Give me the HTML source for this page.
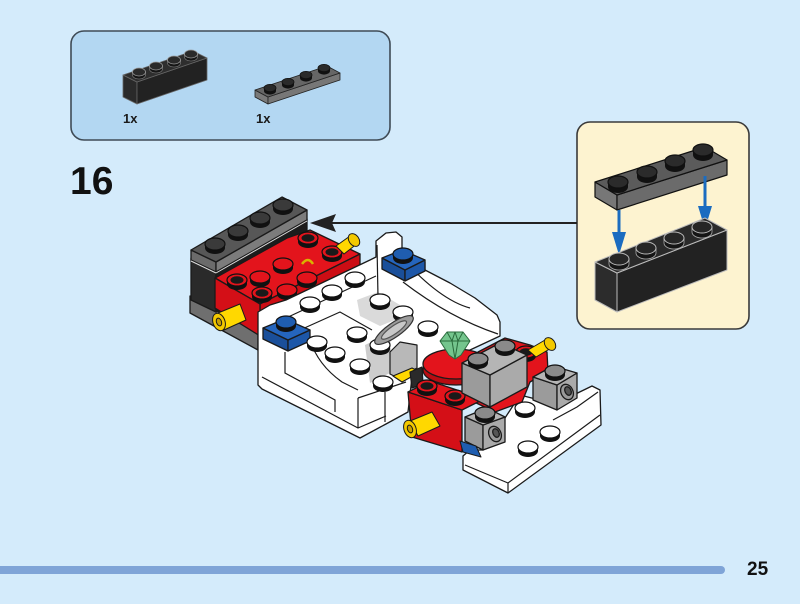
<!DOCTYPE html>
<html><head><meta charset="utf-8">
<style>
html,body{margin:0;padding:0;background:#d4ebfb;}
body{width:800px;height:604px;overflow:hidden;position:relative;}
svg{position:absolute;left:0;top:0;}
</style></head><body>
<svg width="800" height="604" viewBox="0 0 800 604" xmlns="http://www.w3.org/2000/svg">
<defs>
 <g id="ws"><path d="M-10,0V4A10,6 0 0 0 10,4V0Z" fill="#111"/><ellipse rx="10" ry="6" fill="#fff" stroke="#111" stroke-width="1.2"/></g>
 <g id="rs"><path d="M-10,0V4A10,6 0 0 0 10,4V0Z" fill="#111"/><ellipse rx="10" ry="6" fill="#e3141c" stroke="#111" stroke-width="1.2"/></g>
 <g id="rh"><path d="M-10,0V4A10,6 0 0 0 10,4V0Z" fill="#111"/><ellipse rx="10" ry="6" fill="#e3141c" stroke="#111" stroke-width="1.2"/><ellipse rx="6.5" ry="3.8" fill="#1a1a1a"/></g>
 <g id="ks"><path d="M-10,0V4A10,6 0 0 0 10,4V0Z" fill="#111"/><ellipse rx="10" ry="6" fill="#3a3a3a" stroke="#111" stroke-width="1.2"/></g>
 <g id="gs"><path d="M-10,0V4A10,6 0 0 0 10,4V0Z" fill="#111"/><ellipse rx="10" ry="6" fill="#8a8a8a" stroke="#111" stroke-width="1.2"/></g>
 <g id="bs"><path d="M-10,0V4A10,6 0 0 0 10,4V0Z" fill="#111"/><ellipse rx="10" ry="6" fill="#1f5db0" stroke="#111" stroke-width="1.2"/></g>
 <g id="cs"><path d="M-10,0V5A10,6 0 0 0 10,5V0Z" fill="#151515" stroke="#aaa" stroke-width="0.8"/><ellipse rx="10" ry="6" fill="#262626" stroke="#bbb" stroke-width="1"/></g>
 <g id="cp"><path d="M-10,0V5A10,6 0 0 0 10,5V0Z" fill="#111"/><ellipse rx="10" ry="6" fill="#2b2b2b" stroke="#111" stroke-width="1.2"/></g>
 <g id="ss"><path d="M-6.5,0V3A6.5,4 0 0 0 6.5,3V0Z" fill="#151515" stroke="#888" stroke-width="0.6"/><ellipse rx="6.5" ry="4" fill="#2a2a2a" stroke="#999" stroke-width="0.8"/></g>
 <g id="sp"><path d="M-6,0V3A6,3.6 0 0 0 6,3V0Z" fill="#111"/><ellipse rx="6" ry="3.6" fill="#2a2a2a" stroke="#111" stroke-width="0.8"/></g>
</defs>

<!-- Parts box -->
<rect x="71" y="31" width="319" height="109" rx="13" fill="#b3d7f2" stroke="#3f4b56" stroke-width="1.6"/>
<g stroke="#666" stroke-width="0.8" stroke-linejoin="round">
 <polygon points="123,75 137,82 137,104 123,97" fill="#2a2a2a"/>
 <polygon points="137,82 207,58 207,80 137,104" fill="#222"/>
 <polygon points="123,75 193,51 207,58 137,82" fill="#2e2e2e"/>
</g>
<use href="#ss" x="139" y="72"/><use href="#ss" x="156" y="66"/><use href="#ss" x="174" y="60"/><use href="#ss" x="191" y="54"/>
<g stroke="#222" stroke-width="0.8" stroke-linejoin="round">
 <polygon points="255,90 268,97 268,104 255,97" fill="#7a7a7a"/>
 <polygon points="268,97 340,73 340,80 268,104" fill="#777"/>
 <polygon points="255,90 327,66 340,73 268,97" fill="#666"/>
</g>
<use href="#sp" x="270" y="88"/><use href="#sp" x="288" y="82"/><use href="#sp" x="306" y="75"/><use href="#sp" x="324" y="68"/>
<text x="123" y="123" font-family="Liberation Sans, sans-serif" font-weight="bold" font-size="13" fill="#1a1a1a">1x</text>
<text x="256" y="123" font-family="Liberation Sans, sans-serif" font-weight="bold" font-size="13" fill="#1a1a1a">1x</text>

<!-- Step number -->
<text x="70" y="194" font-family="Liberation Sans, sans-serif" font-weight="bold" font-size="39" fill="#111">16</text>

<!-- Callout -->
<rect x="577" y="122" width="172" height="207" rx="13" fill="#fdf3d0" stroke="#3a3a3a" stroke-width="1.6"/>
<g stroke="#111" stroke-width="1.2" stroke-linejoin="round">
 <polygon points="595,182 617,195 617,210 595,197" fill="#777"/>
 <polygon points="617,195 727,160 727,175 617,210" fill="#6b6b6b"/>
 <polygon points="595,182 705,147 727,160 617,195" fill="#5b5b5b"/>
</g>
<use href="#cp" x="618" y="182"/><use href="#cp" x="647" y="172"/><use href="#cp" x="675" y="161"/><use href="#cp" x="703" y="150"/>
<g stroke="#1b6cc0" stroke-width="3"><line x1="619" y1="210" x2="619" y2="236"/><line x1="705" y1="176" x2="705" y2="210"/></g>
<polygon points="612,232 626,232 619,255" fill="#1b6cc0"/>
<polygon points="698,206 712,206 705,229" fill="#1b6cc0"/>
<g stroke="#bbb" stroke-width="1" stroke-linejoin="round">
 <polygon points="595,262 617,273 617,312 595,300" fill="#2c2c2c"/>
 <polygon points="617,273 727,230 727,270 617,312" fill="#222"/>
 <polygon points="595,262 705,218 727,230 617,273" fill="#2a2a2a"/>
</g>
<use href="#cs" x="619" y="259"/><use href="#cs" x="646" y="248"/><use href="#cs" x="674" y="238"/><use href="#cs" x="702" y="227"/>

<!-- Arrow -->
<line x1="577" y1="223" x2="332" y2="223" stroke="#222" stroke-width="2"/>
<polygon points="310,223 336,214 332,223 336,232" fill="#222"/>

<!-- MAIN MODEL -->
<g stroke="#1a1a1a" stroke-width="1.3" stroke-linejoin="round">
 <!-- back gray bottom plate -->
 <polygon points="190,296 258,333 258,350 190,313" fill="#6f6f6f"/>
 <!-- black brick -->
 <polygon points="191,258 216,271 216,312 191,300" fill="#2a2a2a"/>
 <polygon points="216,271 307,219 307,262 216,312" fill="#1c1c1c"/>
 <!-- top plate -->
 <polygon points="191,250 216,262 216,272 191,260" fill="#6b6b6b"/>
 <polygon points="216,262 307,210 307,220 216,272" fill="#7c7c7c"/>
 <polygon points="191,250 282,197 307,210 216,262" fill="#575757"/>
</g>
<line x1="216" y1="273" x2="307" y2="221" stroke="#ddd" stroke-width="1"/>
<line x1="191" y1="261" x2="216" y2="273" stroke="#ddd" stroke-width="1"/>
<use href="#ks" x="283" y="205"/><use href="#ks" x="260" y="218"/><use href="#ks" x="238" y="231"/><use href="#ks" x="215" y="244"/>

<!-- red back block -->
<g stroke="#1a1a1a" stroke-width="1.3" stroke-linejoin="round">
 <polygon points="215,278 287,238 310,230 360,254 260,304" fill="#e3141c"/>
 <polygon points="260,304 360,254 360,268 260,318" fill="#cc0d14"/>
 <polygon points="215,278 260,304 260,336 215,308" fill="#d40f17"/>
</g>
<use href="#rh" x="308" y="238"/><use href="#rh" x="332" y="252"/><use href="#rs" x="283" y="264"/><use href="#rs" x="260" y="277"/><use href="#rs" x="307" y="278"/><use href="#rh" x="237" y="280"/><use href="#rs" x="287" y="290"/><use href="#rh" x="262" y="293"/>
<path d="M302,264 Q308,256 313,264" fill="none" stroke="#d8b400" stroke-width="2.5"/>
<!-- yellow pins back -->
<g stroke="#1a1a1a" stroke-width="1" stroke-linejoin="round">
 <polygon points="336,246 350,236 358,243 344,254" fill="#ffd800"/>
 <ellipse cx="354" cy="240" rx="5" ry="7" transform="rotate(-35 354 240)" fill="#f3c900"/>
 <polygon points="218,313 240,304 246,320 224,330" fill="#ffd800"/>
 <ellipse cx="219" cy="322" rx="6" ry="9" transform="rotate(-20 219 322)" fill="#f3c900"/>
 <ellipse cx="219" cy="322" rx="2.5" ry="4" transform="rotate(-20 219 322)" fill="#c9a000"/>
</g>

<!-- white chassis -->
<g stroke="#1a1a1a" stroke-width="1.3" stroke-linejoin="round">
 <polygon points="258,312 270,305 286,300 370,260 376,257 376,241 386,233 396,232 402,237 402,258 425,270 450,283 475,298 497,315 500,322 500,336 470,350 412,377 408,412 386,424 360,438 262,389 258,385" fill="#fff"/>
 <polygon points="357,300 378,292 400,305 400,318 380,326 360,316" fill="#dadada" stroke="none"/>
 <polygon points="365,345 390,333 392,372 370,383" fill="#cdcdcd" stroke="none"/>
</g>
<g fill="none" stroke="#1a1a1a" stroke-width="1.2">
 <path d="M377,245 L378,297"/>
 <path d="M286,318 L376,276"/>
 <path d="M403,282 Q450,318 498,334"/>
 <path d="M425,262 L425,270"/>
 <path d="M310,340 Q318,365 342,382 L358,390"/>
 <path d="M285,352 L285,373 L335,400 L335,412"/>
 <path d="M262,377 L358,428 L386,416"/>
 <path d="M358,398 L358,428"/>
 <path d="M358,398 L406,382"/>
 <path d="M385,392 L385,422"/>
 <path d="M300,330 L340,312 L372,330"/>
 <path d="M402,258 Q440,300 470,308"/>
</g>
<!-- blue bricks -->
<g stroke="#1a1a1a" stroke-width="1.3" stroke-linejoin="round">
 <polygon points="263,328 288,340 288,351 263,339" fill="#1a4f9a"/>
 <polygon points="288,340 310,330 310,341 288,351" fill="#1d57a8"/>
 <polygon points="263,328 285,319 310,330 288,340" fill="#2565bd"/>
 <polygon points="382,258 405,270 405,281 382,269" fill="#1a4f9a"/>
 <polygon points="405,270 425,260 425,271 405,281" fill="#1d57a8"/>
 <polygon points="382,258 402,250 425,260 405,270" fill="#2565bd"/>
</g>
<use href="#bs" x="286" y="322"/><use href="#bs" x="403" y="254"/>

<!-- white studs chassis -->
<use href="#ws" x="355" y="278"/><use href="#ws" x="332" y="291"/><use href="#ws" x="380" y="300"/><use href="#ws" x="310" y="303"/><use href="#ws" x="403" y="312"/><use href="#ws" x="428" y="327"/><use href="#ws" x="357" y="333"/><use href="#ws" x="317" y="342"/><use href="#ws" x="380" y="345"/><use href="#ws" x="335" y="353"/><use href="#ws" x="360" y="365"/><use href="#ws" x="383" y="382"/>

<!-- cockpit: steering column + wheel -->
<g stroke="#1a1a1a" stroke-width="1.2" stroke-linejoin="round">
 <polygon points="390,352 400,342 417,345 417,368 398,378 390,374" fill="#b8b8b8"/>
 <ellipse cx="394" cy="330" rx="23" ry="7" transform="rotate(-35 394 330)" fill="#9c9c9c" stroke="#333"/>
 <ellipse cx="394" cy="330" rx="15" ry="4" transform="rotate(-35 394 330)" fill="#c8c8c8" stroke="#555"/>
 <polygon points="393,376 412,368 420,372 402,382" fill="#ffd800"/>
 <polygon points="410,372 422,367 423,384 412,388" fill="#2a2a2a"/>
</g>

<!-- white lower right plates -->
<g stroke="#1a1a1a" stroke-width="1.3" stroke-linejoin="round">
 <polygon points="463,456 463,470 508,493 601,425 600,390 592,386 555,404 520,395 505,418 483,450 470,450" fill="#fff"/>
</g>
<g fill="none" stroke="#1a1a1a" stroke-width="1.2">
 <path d="M465,465 L508,483 L600,415"/>
 <path d="M553,420 L577,407 L598,392"/>
 <path d="M508,483 L508,493"/>
</g>
<use href="#ws" x="525" y="408"/><use href="#ws" x="550" y="432"/><use href="#ws" x="528" y="447"/>

<!-- engine cluster -->
<g stroke="#1a1a1a" stroke-width="1.3" stroke-linejoin="round">
 <polygon points="478,352 505,338 530,345 547,352 548,372 530,382 522,402 495,412 470,400" fill="#e3141c"/>
 <ellipse cx="456" cy="370" rx="33" ry="15" fill="#b80c12"/>
 <ellipse cx="456" cy="364" rx="33" ry="15" fill="#e3141c"/>
 <!-- red front brick -->
 <polygon points="408,392 462,410 462,452 412,437" fill="#d40f17"/>
 <polygon points="408,392 430,381 484,399 462,410" fill="#e3141c"/>
</g>
<use href="#rh" x="427" y="386"/><use href="#rh" x="455" y="396"/><use href="#rh" x="526" y="352"/>
<!-- gem -->
<g stroke="#2a6b3c" stroke-width="1" stroke-linejoin="round">
 <polygon points="440,341 447,332 463,332 470,341 461,355 455,359 449,355" fill="#74c58d"/>
 <path d="M440,341 L470,341 M447,332 L452,341 L455,359 M463,332 L458,341 L455,359 M455,332 L452,341 M455,332 L458,341" fill="none"/>
</g>
<!-- gray big brick -->
<g stroke="#1a1a1a" stroke-width="1.3" stroke-linejoin="round">
 <polygon points="462,363 490,375 490,407 462,393" fill="#9b9b9b"/>
 <polygon points="490,375 527,355 527,387 490,407" fill="#aaaaaa"/>
 <polygon points="462,363 500,343 527,355 490,375" fill="#b5b5b5"/>
</g>
<use href="#gs" x="505" y="346"/><use href="#gs" x="478" y="359"/>
<!-- gray right brick -->
<g stroke="#1a1a1a" stroke-width="1.3" stroke-linejoin="round">
 <polygon points="533,377 557,385 557,410 533,400" fill="#9b9b9b"/>
 <polygon points="557,385 577,373 577,398 557,410" fill="#aaaaaa"/>
 <polygon points="533,377 553,366 577,373 557,385" fill="#b5b5b5"/>
 <ellipse cx="567" cy="392" rx="6" ry="8" transform="rotate(-25 567 392)" fill="#999"/>
 <ellipse cx="568" cy="391" rx="3" ry="4.5" transform="rotate(-25 568 391)" fill="#555"/>
</g>
<use href="#gs" x="555" y="371"/>
<!-- gray front brick -->
<g stroke="#1a1a1a" stroke-width="1.3" stroke-linejoin="round">
 <polygon points="465,417 483,425 483,450 465,441" fill="#9b9b9b"/>
 <polygon points="483,425 505,417 505,442 483,450" fill="#aaaaaa"/>
 <polygon points="465,417 487,408 505,417 483,425" fill="#b5b5b5"/>
 <ellipse cx="495" cy="434" rx="6" ry="8" transform="rotate(-25 495 434)" fill="#999"/>
 <ellipse cx="496" cy="433" rx="3" ry="4.5" transform="rotate(-25 496 433)" fill="#555"/>
</g>
<use href="#gs" x="485" y="413"/>
<!-- yellow pins front -->
<g stroke="#1a1a1a" stroke-width="1" stroke-linejoin="round">
 <polygon points="528,350 545,340 553,347 536,357" fill="#ffd800"/>
 <ellipse cx="550" cy="344" rx="5" ry="7" transform="rotate(-35 550 344)" fill="#f3c900"/>
 <polygon points="410,421 432,412 440,426 418,436" fill="#ffd800"/>
 <ellipse cx="410" cy="429" rx="6" ry="9" transform="rotate(-20 410 429)" fill="#f3c900"/>
 <ellipse cx="410" cy="429" rx="2.5" ry="4" transform="rotate(-20 410 429)" fill="#c9a000"/>
 <polygon points="460,441 476,446 481,457 463,452" fill="#1f5db0"/>
</g>

<!-- bottom bar and page number -->
<rect x="-10" y="566" width="735" height="8" rx="4" fill="#7fa4d7"/>
<text x="747" y="575" font-family="Liberation Sans, sans-serif" font-weight="bold" font-size="19" fill="#111">25</text>
</svg>
</body></html>
